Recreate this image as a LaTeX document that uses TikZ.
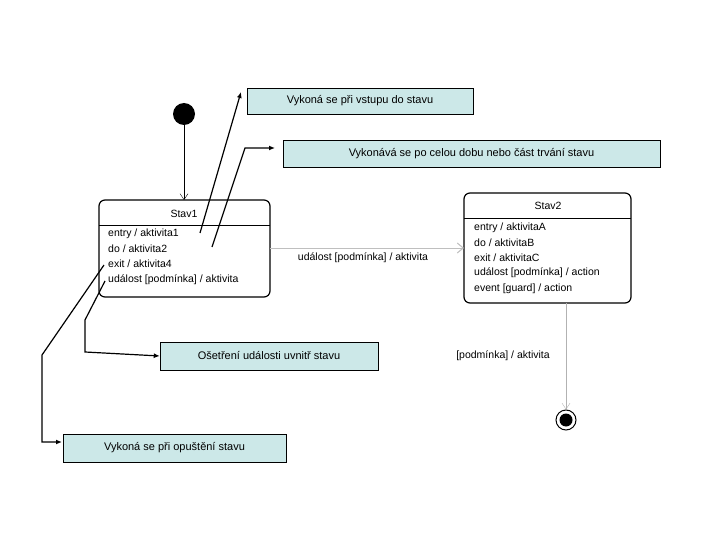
\documentclass[tikz,border=0pt]{standalone}
\usepackage{fontspec}
\setmainfont{Liberation Sans}
\usetikzlibrary{arrows.meta}
\definecolor{notec}{RGB}{204,232,232}
\begin{document}
\begin{tikzpicture}[x=1pt,y=-1pt,
  note/.style={draw=black,fill=notec,inner sep=0pt,font=\fontsize{11}{13}\selectfont},
  st/.style={draw=black,line width=1.2pt,rounded corners=6pt},
  txt/.style={anchor=west,inner sep=0pt,font=\fontsize{10.5}{12}\selectfont},
  lead/.style={line width=1.2pt,-{Latex[length=6pt,width=5pt]}}]
\useasboundingbox (0,0) rectangle (720,540);
% initial
\node[circle,fill=black,minimum width=22pt,minimum height=22pt,inner sep=0pt] (init) at (184,114) {};
% Stav1
\draw[st] (99,200) rectangle (270,297);
\draw (99,225) -- (270,225);
\node[inner sep=0pt,font=\fontsize{10.5}{12}\selectfont] (s1t) at (184,214) {Stav1};
\node[txt] (s1a) at (108,234) {entry / aktivita1};
\node[txt] (s1b) at (108,249) {do / aktivita2};
\node[txt] (s1c) at (108,264) {exit / aktivita4};
\node[txt] (s1d) at (108,280) {událost [podmínka] / aktivita};
\coordinate (s1top) at (184,200);
\coordinate (s1r) at (270,248);
% Stav2
\draw[st] (464,193) rectangle (631,303);
\draw (464,218) -- (631,218);
\node[inner sep=0pt,font=\fontsize{10.5}{12}\selectfont] (s2t) at (548,206) {Stav2};
\node[txt] (s2a) at (474,228) {entry / aktivitaA};
\node[txt] (s2b) at (474,243) {do / aktivitaB};
\node[txt] (s2c) at (474,258) {exit / aktivitaC};
\node[txt] (s2d) at (474,273) {událost [podmínka] / action};
\node[txt] (s2e) at (474,289) {event [guard] / action};
\coordinate (s2l) at (464,248);
\coordinate (s2b0) at (566,303);
% final
\node[circle,draw=black,line width=1pt,minimum size=20pt,inner sep=0pt] (fin) at (566,420) {};
\node[circle,fill=black,minimum size=13pt,inner sep=0pt] at (fin) {};
% transitions
\draw[-{Straight Barb[length=6pt,width=8pt]}] (init) -- (s1top);
\draw[gray!50,line width=1pt,-{Straight Barb[length=6pt,width=10pt]}] (s1r) -- (s2l);
\node[inner sep=0pt,font=\fontsize{10.5}{12}\selectfont] (l1) at (363,258) {událost [podmínka] / aktivita};
\draw[gray!60,-{Straight Barb[length=6pt,width=8pt]}] (s2b0) -- (fin);
\node[inner sep=0pt,font=\fontsize{10.5}{12}\selectfont] (l2) at (503,356) {[podmínka] / aktivita};
% notes
\node[note,minimum width=226pt,minimum height=26pt] (n1) at (360,101) {Vykoná se při vstupu do stavu};
\node[note,minimum width=377pt,minimum height=27pt] (n2) at (471.5,153.5) {Vykonává se po celou dobu nebo část trvání stavu};
\node[note,minimum width=218pt,minimum height=28pt] (n3) at (269,356) {Ošetření události uvnitř stavu};
\node[note,minimum width=223pt,minimum height=28pt] (n4) at (174.5,448) {Vykoná se při opuštění stavu};
% leaders
\coordinate (a1) at (200,233);
\coordinate (b1) at (241,92);
\draw[lead] (a1) -- (b1);
\coordinate (a2) at (212,247);
\coordinate (b2) at (245,148);
\coordinate (c2) at (275,148);
\draw[lead] (a2) -- (b2) -- (c2);
\coordinate (a3) at (105,281);
\coordinate (b3) at (85,320);
\draw[lead] (a3) -- (b3) -- (85,352) -- (n3.west);
\coordinate (a4) at (104,265);
\coordinate (b4) at (42,355);
\draw[lead] (a4) -- (b4) -- (42,442) -- (62,442);
\end{tikzpicture}
\end{document}
